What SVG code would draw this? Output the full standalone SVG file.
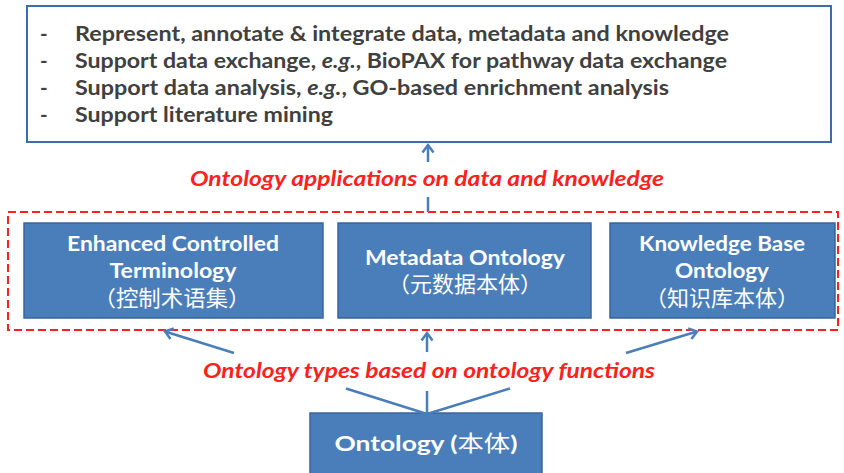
<svg xmlns="http://www.w3.org/2000/svg" width="844" height="473" viewBox="0 0 844 473">
  <style>
    .bullet { font-family: Lato, "Open Sans", sans-serif; font-weight: bold; font-size: 20.5px; fill: #404040; }
    .label { font-family: Lato, "Open Sans", sans-serif; font-weight: bold; font-style: italic; font-size: 21.5px; fill: #ff2020; text-anchor: middle; }
    .box { fill: #4a7ebb; stroke: #38659c; stroke-width: 1.5; }
    .boxtext { font-family: Lato, "Open Sans", sans-serif; font-weight: bold; font-size: 21.5px; fill: #ffffff; text-anchor: middle; }
    .cjk { font-family: "Noto Sans CJK SC", sans-serif; font-weight: normal; font-size: 21.5px; fill: #ffffff; text-anchor: middle; }
    .conn { stroke: #4a7ebb; stroke-width: 2.5; fill: none; }
  </style>
  <defs>
    <marker id="arrow" markerWidth="14" markerHeight="14" refX="9" refY="7" orient="auto" markerUnits="userSpaceOnUse">
      <path d="M1.5,1.5 L9,7 L1.5,12.5" fill="none" stroke="#4a7ebb" stroke-width="2.5"/>
    </marker>
  </defs>

  <rect width="844" height="473" fill="#ffffff"/>

  <!-- applications box -->
  <g id="applications">
    <rect x="27" y="6" width="804" height="136" fill="#ffffff" stroke="#3d6cab" stroke-width="2"/>
    <text class="bullet" x="40" y="41">-</text>
    <text class="bullet" x="40" y="68">-</text>
    <text class="bullet" x="40" y="95">-</text>
    <text class="bullet" x="40" y="122">-</text>
    <text class="bullet" x="75" y="41" textLength="654" lengthAdjust="spacingAndGlyphs">Represent, annotate &amp; integrate data, metadata and knowledge</text>
    <text class="bullet" x="75" y="68" textLength="652" lengthAdjust="spacingAndGlyphs">Support data exchange, <tspan font-style="italic">e.g.</tspan>, BioPAX for pathway data exchange</text>
    <text class="bullet" x="75" y="95" textLength="594" lengthAdjust="spacingAndGlyphs">Support data analysis, <tspan font-style="italic">e.g.</tspan>, GO-based enrichment analysis</text>
    <text class="bullet" x="75" y="122" textLength="258" lengthAdjust="spacingAndGlyphs">Support literature mining</text>
  </g>

  <text class="label" x="427" y="186" textLength="474" lengthAdjust="spacingAndGlyphs">Ontology applications on data and knowledge</text>

  <!-- ontology types group -->
  <g id="types">
    <rect x="8" y="212" width="830" height="118" fill="none" stroke="#ff2020" stroke-width="2" stroke-dasharray="8,4"/>
  </g>

  <g id="controlled-terminology">
    <rect class="box" x="24" y="223" width="299" height="95"/>
    <text class="boxtext" x="173" y="251" textLength="212" lengthAdjust="spacingAndGlyphs">Enhanced Controlled</text>
    <text class="boxtext" x="173" y="278" textLength="127" lengthAdjust="spacingAndGlyphs">Terminology</text>
    <text class="cjk" x="172" y="306" textLength="157" lengthAdjust="spacingAndGlyphs">（控制术语集）</text>
  </g>

  <g id="metadata-ontology">
    <rect class="box" x="338" y="223" width="253" height="95"/>
    <text class="boxtext" x="465" y="265" textLength="200" lengthAdjust="spacingAndGlyphs">Metadata Ontology</text>
    <text class="cjk" x="465" y="292" textLength="154" lengthAdjust="spacingAndGlyphs">（元数据本体）</text>
  </g>

  <g id="knowledge-base-ontology">
    <rect class="box" x="610" y="223" width="225" height="95"/>
    <text class="boxtext" x="722" y="251" textLength="166" lengthAdjust="spacingAndGlyphs">Knowledge Base</text>
    <text class="boxtext" x="722" y="278" textLength="94" lengthAdjust="spacingAndGlyphs">Ontology</text>
    <text class="cjk" x="722" y="306" textLength="154" lengthAdjust="spacingAndGlyphs">（知识库本体）</text>
  </g>

  <text class="label" x="429" y="378" textLength="452" lengthAdjust="spacingAndGlyphs">Ontology types based on ontology functions</text>

  <g id="ontology">
    <rect class="box" x="310" y="413" width="232" height="62"/>
    <text class="boxtext" x="426" y="451" font-size="24px" textLength="183" lengthAdjust="spacingAndGlyphs">Ontology (<tspan font-family="'Noto Sans CJK SC', sans-serif" font-weight="normal">本体</tspan>)</text>
  </g>

  <!-- connectors, broken where they pass behind the labels -->
  <g id="connectors">
    <line class="conn" x1="428" y1="212" x2="428" y2="197"/>
    <line class="conn" x1="428" y1="162" x2="428" y2="145" marker-end="url(#arrow)"/>

    <line class="conn" x1="427" y1="414" x2="346" y2="388.5"/>
    <line class="conn" x1="234" y1="353" x2="165" y2="331.5" marker-end="url(#arrow)"/>

    <line class="conn" x1="427" y1="414" x2="427" y2="391"/>
    <line class="conn" x1="427" y1="352" x2="427" y2="333" marker-end="url(#arrow)"/>

    <line class="conn" x1="427" y1="414" x2="510" y2="388.5"/>
    <line class="conn" x1="626" y1="353" x2="697" y2="331.5" marker-end="url(#arrow)"/>
  </g>
</svg>
